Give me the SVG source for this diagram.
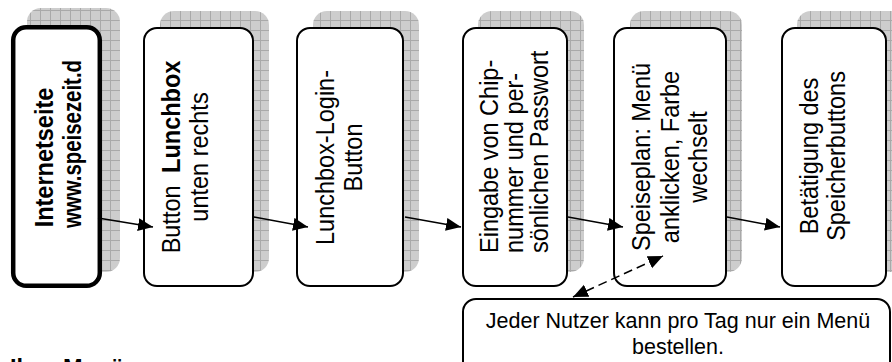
<svg xmlns="http://www.w3.org/2000/svg" width="892" height="362" viewBox="0 0 892 362">
<defs>
<pattern id="grid" width="10" height="10" patternUnits="userSpaceOnUse">
<rect width="10" height="10" fill="#cdcdcd"/>
<path d="M0,0.5 H10 M0.5,0 V10" stroke="#a9a9a9" stroke-width="1" fill="none"/>
</pattern>
<marker id="ah" markerUnits="userSpaceOnUse" markerWidth="16" markerHeight="14" refX="15" refY="6.5" orient="auto-start-reverse"><path d="M0,0 L15,6.5 L0,13 z" fill="#000"/></marker>
</defs>
<style>
.sh{fill:url(#grid);}
.box{fill:#fff;stroke:#000;stroke-width:2;}
.t{font-family:"Liberation Sans",Arial,sans-serif;font-size:23.5px;fill:#000;}
.b{font-weight:bold;}
.c{text-anchor:middle;}
.con{stroke:#000;stroke-width:1.5;fill:none;marker-end:url(#ah);}
.dash{stroke-dasharray:9,5;marker-start:url(#ah);}
</style>
<rect width="892" height="362" fill="#fff"/>
<g id="node1">
<rect class="sh" x="27" y="8" width="93" height="264" rx="14"/>
<rect class="box" x="13.2" y="27.2" width="86.6" height="258.6" rx="13" style="stroke-width:4.5"/>
<text class="t b c" transform="translate(53,157.5) rotate(-90) scale(1,1.06)">Internetseite</text>
<text class="t b" transform="translate(81,228) rotate(-90) scale(1,1.06)" textLength="168" lengthAdjust="spacingAndGlyphs">www.speisezeit.d</text>
</g>
<g id="node2">
<rect class="sh" x="160" y="11" width="109" height="261" rx="14"/>
<rect class="box" x="144" y="28" width="109" height="258" rx="13"/>
<text class="t c" transform="translate(180,157) rotate(-90) scale(1,1.06)">Button <tspan class="b" dx="6">Lunchbox</tspan></text>
<text class="t c" transform="translate(208,157) rotate(-90) scale(1,1.06)">unten rechts</text>
</g>
<g id="node3">
<rect class="sh" x="313" y="11" width="106" height="261" rx="14"/>
<rect class="box" x="297" y="28" width="106" height="258" rx="13"/>
<text class="t c" transform="translate(334,157.5) rotate(-90) scale(1,1.06)">Lunchbox-Login-</text>
<text class="t c" transform="translate(362,157.5) rotate(-90) scale(1,1.06)">Button</text>
</g>
<g id="node4">
<rect class="sh" x="478" y="11" width="106" height="261" rx="14"/>
<rect class="box" x="463" y="28" width="104" height="258" rx="13"/>
<text class="t" transform="translate(498,253) rotate(-90) scale(1,1.06)">Eingabe von Chip-</text>
<text class="t" transform="translate(523,253) rotate(-90) scale(1,1.06)">nummer und per-</text>
<text class="t" transform="translate(548,253) rotate(-90) scale(1,1.06)">sönlichen Passwort</text>
</g>
<g id="node5">
<rect class="sh" x="630" y="11" width="112" height="261" rx="14"/>
<rect class="box" x="614" y="28" width="112" height="258" rx="13"/>
<text class="t c" transform="translate(650,157) rotate(-90) scale(1,1.06)">Speiseplan: Menü</text>
<text class="t c" transform="translate(679,157) rotate(-90) scale(1,1.06)">anklicken, Farbe</text>
<text class="t c" transform="translate(707,157) rotate(-90) scale(1,1.06)">wechselt</text>
</g>
<g id="node6">
<rect class="sh" x="797" y="11" width="110" height="261" rx="14"/>
<rect class="box" x="782" y="28" width="104" height="258" rx="13"/>
<text class="t c" transform="translate(818,156) rotate(-90) scale(1,1.06)">Betätigung des</text>
<text class="t c" transform="translate(845,156) rotate(-90) scale(1,1.06)">Speicherbuttons</text>
</g>
<g id="note">
<rect class="box" x="463" y="299" width="427" height="80" rx="13"/>
<text class="t c" x="678" y="328" style="font-size:21.5px">Jeder Nutzer kann pro Tag nur ein Menü</text>
<text class="t c" x="678" y="354" style="font-size:21.5px">bestellen.</text>
</g>
<g id="connectors">
<line class="con" x1="98" y1="218" x2="153" y2="227"/>
<line class="con" x1="254" y1="217" x2="308" y2="227"/>
<line class="con" x1="405" y1="217" x2="461" y2="227"/>
<line class="con" x1="568" y1="217" x2="623" y2="227"/>
<line class="con" x1="727" y1="217" x2="780" y2="227"/>
<line class="con dash" x1="573" y1="297" x2="663" y2="256"/>
</g>
<text class="t b" x="10" y="375.5">Ihr<tspan x="63">Menü</tspan></text>
</svg>
